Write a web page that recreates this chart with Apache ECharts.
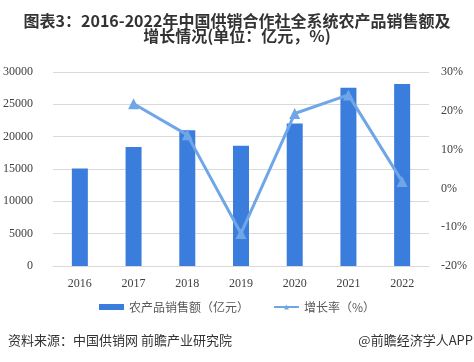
<!DOCTYPE html>
<html><head><meta charset="utf-8">
<script src="https://cdn.jsdelivr.net/npm/echarts@6/dist/echarts.min.js"></script>
<style>html,body{margin:0;padding:0;background:#fff}#c{width:474px;height:362px}</style>
</head><body><div id="c"></div>
<script>
const years = ['2016','2017','2018','2019','2020','2021','2022'];
const sales = [15080, 18400, 21000, 18600, 22050, 27570, 28150];
const growth = [null, 21.8, 13.8, -11.6, 19.3, 24.1, 1.8];
const leftTicks = [0, 5000, 10000, 15000, 20000, 25000, 30000];
const rightTicks = [-20, -10, 0, 10, 20, 30];

const chart = echarts.init(document.getElementById('c'));
const lblFont = {color:'#404040', fontFamily:'Liberation Serif', fontSize:12};
chart.setOption({
  animation:false,
  grid:{left:48, right:45, top:72, bottom:96},
  legend:{
    top:296, left:'center', itemGap:24, itemWidth:25, itemHeight:6,
    textStyle:{color:'#595959', fontSize:12, fontFamily:'Noto Sans CJK SC'},
    data:[{name:'农产品销售额（亿元）', icon:'rect'}, {name:'增长率（%）'}]
  },
  xAxis:{
    type:'category', data:years,
    axisLine:{lineStyle:{color:'#d9d9d9'}}, axisTick:{show:false},
    axisLabel:Object.assign({margin:12}, lblFont)
  },
  yAxis:[{
    type:'value', min:leftTicks[0], max:leftTicks[leftTicks.length-1], interval:5000,
    axisLine:{show:false}, axisTick:{show:false},
    splitLine:{lineStyle:{color:'#d9d9d9'}},
    axisLabel:Object.assign({margin:20, formatter:v=>String(v)}, lblFont)
  },{
    type:'value', min:rightTicks[0], max:rightTicks[rightTicks.length-1], interval:10,
    axisLine:{show:false}, axisTick:{show:false}, splitLine:{show:false},
    axisLabel:Object.assign({margin:12, formatter:'{value}%'}, lblFont)
  }],
  series:[{
    name:'农产品销售额（亿元）', type:'bar', data:sales, barWidth:16,
    itemStyle:{color:'#3b7ddd'}
  },{
    name:'增长率（%）', type:'line', yAxisIndex:1, data:growth,
    symbol:'triangle', symbolSize:11, lineStyle:{width:3, color:'#6fa6e8'},
    itemStyle:{color:'#6fa6e8'}
  }],
  graphic:[
    {type:'text', x:237, y:13, style:{text:'图表3：2016-2022年中国供销合作社全系统农产品销售额及\n增长情况(单位：亿元，%)', align:'center', fontSize:16, fontWeight:'bold', fill:'#333', lineHeight:15, fontFamily:'Noto Sans CJK SC'}},
    {type:'text', left:8, top:334, style:{text:'资料来源：中国供销网 前瞻产业研究院', fontSize:13, fill:'#333', fontFamily:'Noto Sans CJK SC'}},
    {type:'text', right:1, top:334, style:{text:'@前瞻经济学人APP', fontSize:13, fill:'#333', fontFamily:'Noto Sans CJK SC'}}
  ]
});
</script></body></html>
